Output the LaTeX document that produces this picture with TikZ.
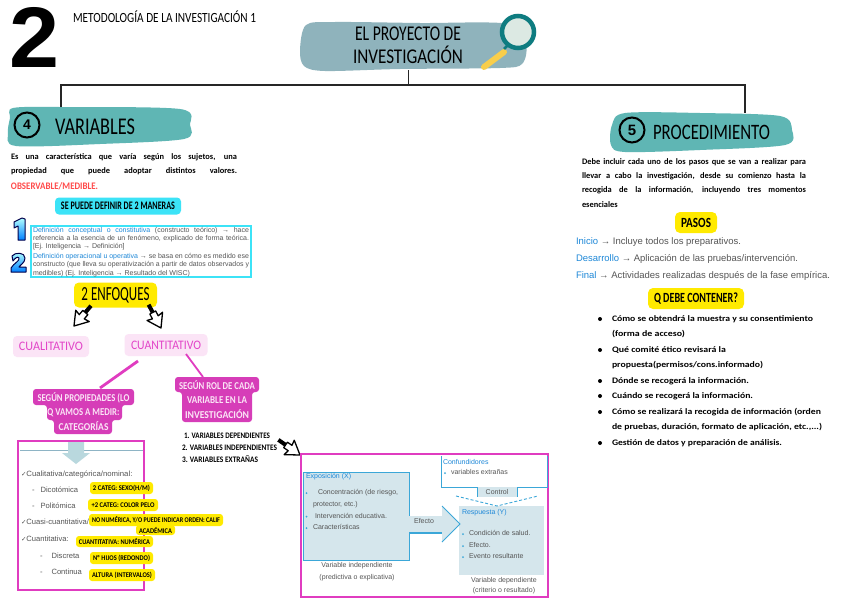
\documentclass[tikz,border=0pt]{standalone}
\usepackage{graphicx}
\usepackage{fontspec}
\setmainfont{Carlito}
\newfontfamily\lsans{Liberation Sans}
\newfontfamily\djv{DejaVu Sans}
\definecolor{titleblob}{HTML}{8FB3BC}
\definecolor{tealblob}{HTML}{5FB6B4}
\definecolor{lensring}{HTML}{0E7C80}
\definecolor{lensglass}{HTML}{DCE9E3}
\definecolor{lenshandle}{HTML}{F9CE4B}
\definecolor{cyanbox}{HTML}{3CE3F7}
\definecolor{yellowbox}{HTML}{FFEA00}
\definecolor{pinkpale}{HTML}{FBE4F6}
\definecolor{magentatx}{HTML}{E245C8}
\definecolor{magentabx}{HTML}{D63DB8}
\definecolor{magline}{HTML}{E03CC0}
\definecolor{redtx}{HTML}{FF4A4A}
\definecolor{bluetx}{HTML}{1E88D8}
\definecolor{greytx}{HTML}{555555}
\definecolor{paleblue}{HTML}{D5E6EC}
\definecolor{lineblue}{HTML}{3BA7D8}
\definecolor{arrowpale}{HTML}{B9D8DE}
\newcommand\fitw[2]{\resizebox{#1pt}{\height}{#2}}
\newcommand\just[2]{\makebox[#1pt][s]{#2}}
\newcommand\pillbox[7]{\node[#6,minimum width=#4pt,minimum height=#5pt] (#1) at (#2,#3) {#7};}
\newcommand\lbl[6]{\node[#5,anchor=#4] (#1) at (#2,#3) {#6};}
\newcommand\blockarrow[4]{\begin{scope}[shift={(#1,#2)},rotate=#3,scale=#4]
  \draw[black,line width=4pt] (-24,0) -- (-11,0);
  \draw[blockar] (-16,-3) -- (-11,-3) -- (-12,-8) -- (0,0) -- (-12,8) -- (-11,3) -- (-16,3) -- cycle;
  \end{scope}}
\tikzset{
  txt/.style={inner sep=0pt,outer sep=0pt,text=black},
  hand/.style={txt,font=\bfseries\fontsize{8.4}{10}\selectfont},
  head/.style={txt,font=\fontsize{24}{26}\selectfont},
  redhand/.style={hand,text=redtx},
  paste/.style={txt,font=\lsans\fontsize{7}{8}\selectfont,text=greytx},
  pasteb/.style={paste,text=bluetx},
  step9/.style={txt,font=\lsans\fontsize{9.5}{11}\selectfont,text=greytx},
  tagy/.style={txt,fill=yellowbox,rounded corners=3pt,font=\bfseries\fontsize{7.2}{8}\selectfont},
  tagbig/.style={txt,fill=yellowbox,rounded corners=5pt},
  pinkpill/.style={txt,fill=pinkpale,rounded corners=4pt,text=magentatx,font=\fontsize{13}{15}\selectfont},
  magtx/.style={txt,text=pinkpale,font=\bfseries\fontsize{10.5}{12}\selectfont},
  hline/.style={draw=black!85,line width=1.2pt},
  blockar/.style={draw=black,fill=white,line width=1.3pt,line join=round},
  imgframe/.style={draw=magline,line width=2.2pt},
  schema/.style={draw=lineblue,line width=0.9pt},
  listitem/.style={txt,font=\bfseries\fontsize{8.4}{10}\selectfont},
  digitblue/.style={draw=black!70!blue,line width=1pt,line join=round,top color=cyan!30!white,bottom color=blue!50!cyan},
}
\begin{document}
\begin{tikzpicture}[x=1pt,y=-1pt]
\useasboundingbox (0,0) rectangle (848,600);
\fill[white] (0,0) rectangle (848,600);
% big number
\lbl{bignum}{34.5}{37.5}{center}{txt,font=\lsans\bfseries\fontsize{86}{86}\selectfont}{\fitw{50}{2}}
\lbl{subject}{73}{17}{west}{txt,font=\fontsize{14}{16}\selectfont}{\fitw{183}{METODOLOGÍA DE LA INVESTIGACIÓN 1}}
% blobs
\fill[titleblob] plot[smooth cycle,tension=0.5] coordinates {(306,25)(335,22)(420,23)(510,24)(526,45)(522,64)(500,68)(400,69)(325,71)(304,66)(300,50)};
\fill[tealblob] plot[smooth cycle,tension=0.5] coordinates {(13,108)(60,107)(180,109)(190,125)(184,139)(100,144)(16,146)(8,133)(10,118)};
\fill[tealblob] plot[smooth cycle,tension=0.5] coordinates {(625,113)(700,113)(780,116)(792,130)(785,145)(700,150)(625,152)(611,145)(612,125)};
% title
\node[head,align=center,font=\fontsize{21}{22}\selectfont] (title) at (408,45) {\fitw{106}{EL PROYECTO DE}\\[1pt]\fitw{110}{INVESTIGACIÓN}};
% magnifier
\draw[lenshandle,line width=6pt,line cap=round] (504,52) -- (484,67);
\draw[lensring,line width=2.5pt] (510,43) -- (504,49);
\node[circle,draw=lensring,line width=4.5pt,fill=lensglass,minimum size=32pt,inner sep=0pt] (lens) at (518,32) {};
% connectors at top
\coordinate (titlefoot) at (408.5,70);
\coordinate (junction) at (408.5,85);
\coordinate (leftcorner) at (61,85);
\coordinate (rightcorner) at (745,85);
\coordinate (varstop) at (61,107);
\coordinate (procstop) at (745,113);
\draw[hline] (titlefoot) -- (junction);
\draw[hline] (varstop) -- (leftcorner) -- (rightcorner) -- (procstop);
% variables header
\node[circle,draw=black,line width=2pt,minimum size=25pt,inner sep=0pt,font=\lsans\bfseries\fontsize{14}{14}\selectfont] (four) at (27,125) {4};
\lbl{varstitle}{55}{127}{west}{head}{\fitw{80}{VARIABLES}}
\lbl{varsp1}{11}{157}{west}{hand}{\just{226}{Es una característica que varía según los sujetos, una}}
\lbl{varsp2}{11}{171}{west}{hand}{\just{226}{propiedad que puede adoptar distintos valores.}}
\lbl{varsp3}{11}{186}{west}{redhand,font=\bfseries\fontsize{10}{12}\selectfont}{\fitw{87}{OBSERVABLE/MEDIBLE.}}
\pillbox{defpill}{118}{206}{126}{17}{txt,fill=cyanbox,rounded corners=4pt,font=\bfseries\fontsize{11.5}{12}\selectfont}{\fitw{114}{SE PUEDE DEFINIR DE 2 MANERAS}}
% blue digits
\path[digitblue] (14,222) -- (22,218) -- (25,219) -- (25,240) -- (18,240) -- (18,226) -- (14,228) -- cycle;
\path[digitblue] (12,256) .. controls (15,252) and (25,252) .. (25,258) .. controls (25,263) and (20,265) .. (19,267) -- (26,267) -- (26,272) -- (11,272) -- (11,268) .. controls (14,263) and (20,261) .. (19,258) .. controls (18,256) and (15,258) .. (13,261) -- cycle;
% definitions box
\node[draw=cyanbox,line width=1.6pt,minimum width=220pt,minimum height=51pt,inner sep=0pt] (defbox) at (141,251.5) {};
\lbl{def1}{33}{230.5}{west}{paste}{\just{216}{\textcolor{bluetx}{Definición conceptual o constitutiva} (constructo teórico) → hace}}
\lbl{def2}{33}{238.5}{west}{paste}{\just{216}{referencia a la esencia de un fenómeno, explicado de forma teórica.}}
\lbl{def3}{33}{247}{west}{paste}{[Ej. Inteligencia → Definición]}
\lbl{def4}{33}{257}{west}{paste}{\just{216}{\textcolor{bluetx}{Definición operacional u operativa} → se basa en cómo es medido ese}}
\lbl{def5}{33}{265}{west}{paste}{\fitw{216}{constructo (que lleva su operativización a partir de datos observados y}}
\lbl{def6}{33}{273.5}{west}{paste}{medibles) (Ej. Inteligencia → Resultado del WISC)}
% enfoques
\pillbox{enfoques}{115.5}{295}{83}{25}{tagbig,font=\fontsize{20}{20}\selectfont}{\fitw{68}{2 ENFOQUES}}
\blockarrow{74}{326}{230}{1.1}
\blockarrow{161}{328}{-62}{1.1}
\pillbox{cuali}{51}{346.5}{76}{21}{pinkpill}{\fitw{64}{CUALITATIVO}}
\pillbox{cuanti}{166}{345}{83}{22}{pinkpill}{\fitw{70}{CUANTITATIVO}}
% pink boxes
\fill[magentabx,rounded corners=3pt] (33,389) -- (134,389) -- (134,405) -- (122,405) -- (122,420) -- (112,420) -- (112,434) -- (54,434) -- (54,420) -- (47,420) -- (47,405) -- (33,405) -- cycle;
\fill[magentabx,rounded corners=3pt] (175,377) -- (259,377) -- (259,392) -- (252,392) -- (252,422) -- (182,422) -- (182,392) -- (175,392) -- cycle;
\node[magtx,align=center] (propbox) at (83.5,411.5) {\fitw{92}{SEGÚN PROPIEDADES (LO}\\[2.5pt]\fitw{72}{Q VAMOS A MEDIR:}\\[2.5pt]\fitw{50}{CATEGORÍAS}};
\node[magtx,align=center] (rolbox) at (217,399.5) {\fitw{76}{SEGÚN ROL DE CADA}\\[2.5pt]\fitw{60}{VARIABLE EN LA}\\[2.5pt]\fitw{64}{INVESTIGACIÓN}};
\coordinate (cuantiA) at (138,361);
\coordinate (propA) at (100,388);
\coordinate (cuantiB) at (186,354);
\coordinate (rolB) at (203,377);
\draw[magline,line width=2.8pt] (cuantiA) -- (propA);
\draw[magline,line width=1.8pt] (cuantiB) -- (rolB);
% list
\lbl{li1}{184}{436}{west}{listitem}{\fitw{86}{1. VARIABLES DEPENDIENTES}}
\lbl{li2}{182}{448}{west}{listitem}{\fitw{95}{2. VARIABLES INDEPENDIENTES}}
\lbl{li3}{182}{459}{west}{listitem}{\fitw{76}{3. VARIABLES EXTRAÑAS}}
\blockarrow{300}{455}{-35}{1.1}
% left image box
\node[imgframe,minimum width=126pt,minimum height=149pt,inner sep=0pt] (frameA) at (81,515.5) {};
\coordinate (ruleL) at (20,450);
\coordinate (ruleR) at (143,450);
\draw[lineblue!50!gray!70,line width=0.6pt] (ruleL) -- (ruleR);
\fill[arrowpale] (68,442) -- (84,442) -- (84,453) -- (90,453) -- (76,464) -- (62,453) -- (68,453) -- cycle;
\lbl{qual1}{21}{474}{west}{paste,font=\lsans\fontsize{7.6}{9}\selectfont}{{\djv\fontsize{6.5}{8}\selectfont ✓}\fitw{106}{Cualitativa/categórica/nominal:}}
\lbl{qual2}{32}{490}{west}{paste,font=\lsans\fontsize{7.6}{9}\selectfont}{-\hspace{6pt}Dicotómica}
\lbl{qual3}{32}{506}{west}{paste,font=\lsans\fontsize{7.6}{9}\selectfont}{-\hspace{6pt}Politómica}
\lbl{qual4}{21}{522}{west}{paste,font=\lsans\fontsize{7.6}{9}\selectfont}{{\djv\fontsize{6.5}{8}\selectfont ✓}Cuasi-cuantitativa/}
\lbl{qual5}{21}{539}{west}{paste,font=\lsans\fontsize{7.6}{9}\selectfont}{{\djv\fontsize{6.5}{8}\selectfont ✓}Cuantitativa:}
\lbl{qual6}{40}{556}{west}{paste,font=\lsans\fontsize{7.6}{9}\selectfont}{-\hspace{9pt}Discreta}
\lbl{qual7}{40}{572}{west}{paste,font=\lsans\fontsize{7.6}{9}\selectfont}{-\hspace{9pt}Continua}
\pillbox{tag1}{121.5}{488}{63}{12}{tagy}{\fitw{57}{2 CATEG: SEXO(H/M)}}
\pillbox{tag2}{123}{505}{70}{12}{tagy}{\fitw{63}{+2 CATEG: COLOR PELO}}
\pillbox{tag4}{155.5}{530}{39}{10}{tagy}{\fitw{33}{ACADÉMICA}}
\pillbox{tag3}{156}{520}{134}{12}{tagy}{\fitw{128}{NO NUMÉRICA, Y/O PUEDE INDICAR ORDEN: CALIF}}
\pillbox{tag5}{114.5}{541.5}{77}{11}{tagy}{\fitw{71}{CUANTITATIVA: NUMÉRICA}}
\pillbox{tag6}{121.5}{558}{63}{12}{tagy}{\fitw{57}{Nº HIJOS (REDONDO)}}
\pillbox{tag7}{122}{575}{66}{12}{tagy}{\fitw{60}{ALTURA (INTERVALOS)}}
% right image box
\node[imgframe,minimum width=247pt,minimum height=143pt,inner sep=0pt] (frameB) at (424.5,525.5) {};
\node[schema,fill=paleblue,minimum width=106pt,minimum height=88pt,inner sep=0pt] (expo) at (356,516) {};
\fill[paleblue] (459,506) rectangle (544,575);
\node[minimum width=85pt,minimum height=69pt,inner sep=0pt] (resp) at (501.5,540.5) {};
\coordinate (confTL) at (441,456);
\coordinate (confBL) at (441,487);
\coordinate (confBR) at (547,487);
\coordinate (confTR) at (547,456);
\draw[schema] (confTL) -- (confBL) -- (confBR) -- (confTR);
\coordinate (ctrlL) at (477,487);
\coordinate (ctrlR) at (517,487);
\coordinate (ctrlLb) at (477,497);
\coordinate (ctrlRb) at (517,497);
\fill[paleblue] (ctrlL) rectangle (ctrlRb);
\draw[schema] (ctrlL) -- (ctrlLb) (ctrlR) -- (ctrlRb);
\coordinate (dashL) at (456,496);
\coordinate (dashTip) at (497,506);
\coordinate (dashR) at (538,496);
\draw[schema,dashed,dash pattern=on 3pt off 2pt] (dashL) -- (dashTip) -- (dashR);
% effect arrow
\coordinate (effA) at (409,516);
\coordinate (effB) at (442,516);
\coordinate (effC) at (442,506);
\coordinate (effTip) at (460,524);
\coordinate (effD) at (442,542);
\coordinate (effE) at (442,533);
\coordinate (effF) at (409,533);
\fill[paleblue] (effA) -- (effB) -- (effC) -- (effTip) -- (effD) -- (effE) -- (effF) -- cycle;
\draw[schema,line width=1.6pt] (effF) -- (effE);
\draw[schema] (effC) -- (effTip) -- (effD);
\lbl{efftx}{424}{521}{center}{paste}{Efecto}
\lbl{expo0}{306}{476.5}{west}{pasteb}{Exposición (X)}
\lbl{expo1}{318}{493}{west}{paste}{Concentración (de riesgo,}
\lbl{expo2}{313}{505}{west}{paste}{protector, etc.)}
\lbl{expo3}{315}{516}{west}{paste}{Intervención educativa.}
\lbl{expo4}{313}{527}{west}{paste}{Características}
\fill[lineblue] (306.5,493) circle (1pt) (306.5,516.5) circle (1pt) (306.5,528) circle (1pt);
\lbl{exposub1}{357}{566}{center}{paste}{Variable independiente}
\lbl{exposub2}{357}{578}{center}{paste}{(predictiva o explicativa)}
\lbl{conf0}{443}{462}{west}{pasteb}{Confundidores}
\lbl{conf1}{451}{472}{west}{paste}{variables extrañas}
\fill[lineblue] (445,473) circle (1pt);
\lbl{ctrl}{497}{492}{center}{paste}{Control}
\lbl{resp0}{462}{513}{west}{pasteb}{Respuesta (Y)}
\lbl{resp1}{469}{533}{west}{paste}{Condición de salud.}
\lbl{resp2}{469}{545}{west}{paste}{Efecto.}
\lbl{resp3}{469}{556}{west}{paste}{Evento resultante}
\fill[lineblue] (463,534) circle (1pt) (463,546) circle (1pt) (463,557) circle (1pt);
\lbl{respsub1}{504}{581}{center}{paste}{Variable dependiente}
\lbl{respsub2}{504}{591}{center}{paste}{(criterio o resultado)}
% procedimiento
\node[circle,draw=black,line width=2pt,minimum size=25pt,inner sep=0pt,font=\lsans\bfseries\fontsize{15}{15}\selectfont] (five) at (632,130) {5};
\lbl{proctitle}{653}{132}{west}{head,font=\fontsize{22}{24}\selectfont}{\fitw{117}{PROCEDIMIENTO}}
\lbl{procp1}{582}{162}{west}{hand}{\just{224}{Debe incluir cada uno de los pasos que se van a realizar para}}
\lbl{procp2}{582}{176}{west}{hand}{\just{224}{llevar a cabo la investigación, desde su comienzo hasta la}}
\lbl{procp3}{582}{190}{west}{hand}{\just{224}{recogida de la información, incluyendo tres momentos}}
\lbl{procp4}{582}{205}{west}{hand}{esenciales}
\pillbox{pasos}{696}{222.5}{42}{21}{tagbig,font=\bfseries\fontsize{14}{15}\selectfont}{\fitw{30}{PASOS}}
\lbl{paso1}{576}{242}{west}{step9}{\fitw{165}{\textcolor{bluetx}{Inicio} → Incluye todos los preparativos.}}
\lbl{paso2}{576}{259}{west}{step9}{\fitw{222}{\textcolor{bluetx}{Desarrollo} → Aplicación de las pruebas/intervención.}}
\lbl{paso3}{576}{276}{west}{step9}{\fitw{254}{\textcolor{bluetx}{Final} → Actividades realizadas después de la fase empírica.}}
\pillbox{qdebe}{696}{298.5}{96}{21}{tagbig,font=\bfseries\fontsize{14}{15}\selectfont}{\fitw{84}{Q DEBE CONTENER?}}
\fill[black] (600,319) circle (2pt) (600,350) circle (2pt) (600,381) circle (2pt) (600,396) circle (2pt) (600,412) circle (2pt) (600,443) circle (2pt);
\lbl{c1}{612}{319}{west}{hand}{\fitw{201}{Cómo se obtendrá la muestra y su consentimiento}}
\lbl{c1b}{612}{334}{west}{hand}{\fitw{73}{(forma de acceso)}}
\lbl{c2}{612}{350}{west}{hand}{\fitw{114}{Qué comité ético revisará la}}
\lbl{c2b}{612}{365}{west}{hand}{\fitw{151}{propuesta(permisos/cons.informado)}}
\lbl{c3}{612}{381}{west}{hand}{\fitw{137}{Dónde se recogerá la información.}}
\lbl{c4}{612}{396}{west}{hand}{\fitw{141}{Cuándo se recogerá la información.}}
\lbl{c5}{612}{412}{west}{hand}{\fitw{209}{Cómo se realizará la recogida de información (orden}}
\lbl{c5b}{612}{427}{west}{hand}{\fitw{210}{de pruebas, duración, formato de aplicación, etc.,...)}}
\lbl{c6}{612}{443}{west}{hand}{\fitw{170}{Gestión de datos y preparación de análisis.}}
\end{tikzpicture}
\end{document}
